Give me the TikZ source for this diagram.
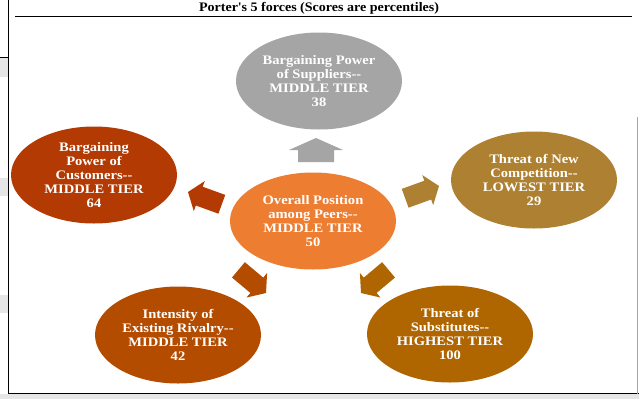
\documentclass[tikz,border=0pt]{standalone}
\usepackage{fontspec}
\setmainfont{Liberation Serif}
\newfontfamily\wideserif{Liberation Serif}[FakeStretch=1.12]
\newfontfamily\titleserif{Liberation Serif}[FakeStretch=1.08]
\usetikzlibrary{shapes.geometric}
\definecolor{cgray}{HTML}{A5A5A5}
\definecolor{crust}{HTML}{B33B03}
\definecolor{corange}{HTML}{ED7D31}
\definecolor{cgold}{HTML}{AE8132}
\definecolor{cbrown}{HTML}{B44C00}
\definecolor{cochre}{HTML}{AF6500}
\definecolor{cband}{HTML}{E6E6E6}
\tikzset{
  force/.style={ellipse, minimum width=166pt, minimum height=97pt, inner sep=0pt,
    text=white, align=center, font=\wideserif\fontsize{13}{14}\selectfont\bfseries},
}
\newcommand{\dd}{-{}-}
\newcommand{\blockarr}[5]{% x, y (tip), angle, colour, length
  \fill[#4, shift={(#1,#2)}, rotate=#3]
    (0,0) -- (-12,16) -- (-12,10) -- (-#5,10) -- (-#5,-10) -- (-12,-10) -- (-12,-16) -- cycle;}
\begin{document}
\begin{tikzpicture}[x=1pt,y=-1pt]
\useasboundingbox (0,0) rectangle (639,399);
\fill[white] (0,0) rectangle (639,399);
% left gray bands
\fill[cband] (0,58) rectangle (8,77);
\fill[cband] (0,178) rectangle (8,196);
\fill[cband] (0,295) rectangle (8,313);
\draw[line width=0.6pt] (0,57.5) -- (8,57.5);
% bottom gray
\fill[cband] (0,394) rectangle (639,399);
% frame
\draw[line width=1pt] (8,0) -- (8,394);
\draw[line width=1pt] (8,393.5) -- (639,393.5);
\draw[line width=0.8pt] (15,16) -- (632,16);
\draw[line width=1pt, color=gray!70] (637.5,117) -- (637.5,394);
% title
\node[font=\titleserif\fontsize{13}{14}\selectfont\bfseries] (title) at (319,8) {Porter\textquotesingle s 5 forces (Scores are percentiles)};
% ellipses
\node[force, fill=cgray] (sup) at (319,81) {Bargaining Power\\of Suppliers\dd\\MIDDLE TIER\\38};
\node[force, fill=crust] (cus) at (94,175) {Bargaining\\Power of\\Customers\dd\\MIDDLE TIER\\64};
\node[force, fill=cgold] (new) at (534,180) {Threat of New\\Competition\dd\\LOWEST TIER\\29};
\node[force, fill=corange] (mid) at (313,221) {Overall Position\\among Peers\dd\\MIDDLE TIER\\50};
\node[force, fill=cbrown] (riv) at (178,335) {Intensity of\\Existing Rivalry\dd\\MIDDLE TIER\\42};
\node[force, fill=cochre] (sub) at (450,334) {Threat of\\Substitutes\dd\\HIGHEST TIER\\100};
% arrows
\fill[cgray] (316,138) -- (343,150) -- (334,150) -- (334,162) -- (298,162) -- (298,150) -- (289,150) -- cycle;
\blockarr{188}{192}{160}{crust}{36}
\blockarr{439}{186}{20}{cgold}{36}
\blockarr{266}{293}{-40}{cbrown}{36}
\blockarr{361}{293}{-140}{cochre}{36}
\end{tikzpicture}
\end{document}
